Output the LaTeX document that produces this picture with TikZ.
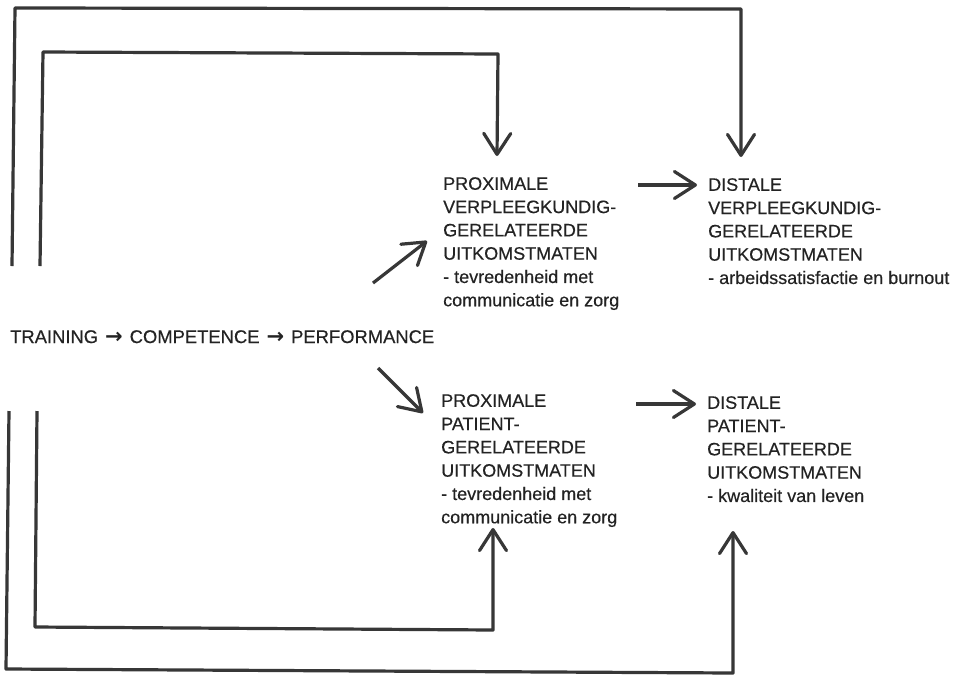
\documentclass[tikz,border=0pt]{standalone}
\usepackage{fontspec}
\setmainfont{Liberation Sans}[FakeBold=0.4]
\newfontfamily\arrfont{DejaVu Sans Bold}
\usetikzlibrary{arrows.meta}
\definecolor{ink}{RGB}{55,55,55}
\definecolor{txt}{RGB}{35,35,35}
\newcommand{\txtarrow}{\hspace{7pt}{\arrfont\fontsize{21}{22}\selectfont\raisebox{-0.5pt}{→}}\hspace{7pt}}
\begin{document}
\begin{tikzpicture}[x=1pt,y=-1pt,
  lbl/.style={anchor=north west,inner sep=0pt,align=left,text=txt,
    font=\fontsize{18}{23.3}\selectfont},
  conn/.style={draw=ink,line width=3.2pt,line join=round,
    -{Straight Barb[length=21pt,width=27pt,round]}},
  loop/.style={draw=ink,line width=3.2pt,line join=round}]
\useasboundingbox[fill=white] (0,0) rectangle (963,678);

% text nodes
\node[lbl,font=\fontsize{18.4}{23.3}\selectfont] (tcp) at (10,330) {TRAINING\txtarrow COMPETENCE\txtarrow PERFORMANCE};
\node[lbl] (pv) at (443,177) {PROXIMALE\\VERPLEEGKUNDIG-\\GERELATEERDE\\UITKOMSTMATEN\\- tevredenheid met\\communicatie en zorg};
\node[lbl] (dv) at (708,178) {DISTALE\\VERPLEEGKUNDIG-\\GERELATEERDE\\UITKOMSTMATEN\\- arbeidssatisfactie en burnout};
\node[lbl] (pp) at (441,394) {PROXIMALE\\PATIENT-\\GERELATEERDE\\UITKOMSTMATEN\\- tevredenheid met\\communicatie en zorg};
\node[lbl] (dp) at (707,396) {DISTALE\\PATIENT-\\GERELATEERDE\\UITKOMSTMATEN\\- kwaliteit van leven};

% anchor coordinates
\coordinate (upS) at (373,283);
\coordinate (upT) at (427,241);
\coordinate (dnS) at (378,368);
\coordinate (dnT) at (423,413);
\coordinate (h1S) at (638,185);
\coordinate (h1T) at (697,185);
\coordinate (h2S) at (636,404);
\coordinate (h2T) at (696,404);

\coordinate (oT0) at (12,266);
\coordinate (oT1) at (15,8);
\coordinate (oT2) at (741,9);
\coordinate (oTt) at (741,157);
\coordinate (iT0) at (40,266);
\coordinate (iT1) at (43,52);
\coordinate (iT2) at (498,54);
\coordinate (iTt) at (497,156);

\coordinate (oB0) at (9,411);
\coordinate (oB1) at (6,669);
\coordinate (oB2) at (733,673);
\coordinate (oBt) at (733,531);
\coordinate (iB0) at (37,411);
\coordinate (iB1) at (35,627);
\coordinate (iB2) at (493,630);
\coordinate (iBt) at (493,528);

% connectors
\draw[conn] (upS) -- (upT);
\draw[conn] (dnS) -- (dnT);
\draw[conn] (h1S) -- (h1T);
\draw[conn] (h2S) -- (h2T);

\draw[conn] (oT0) -- (oT1) -- (oT2) -- (oTt);
\draw[conn] (iT0) -- (iT1) -- (iT2) -- (iTt);
\draw[conn] (oB0) -- (oB1) -- (oB2) -- (oBt);
\draw[conn] (iB0) -- (iB1) -- (iB2) -- (iBt);
\end{tikzpicture}
\end{document}
